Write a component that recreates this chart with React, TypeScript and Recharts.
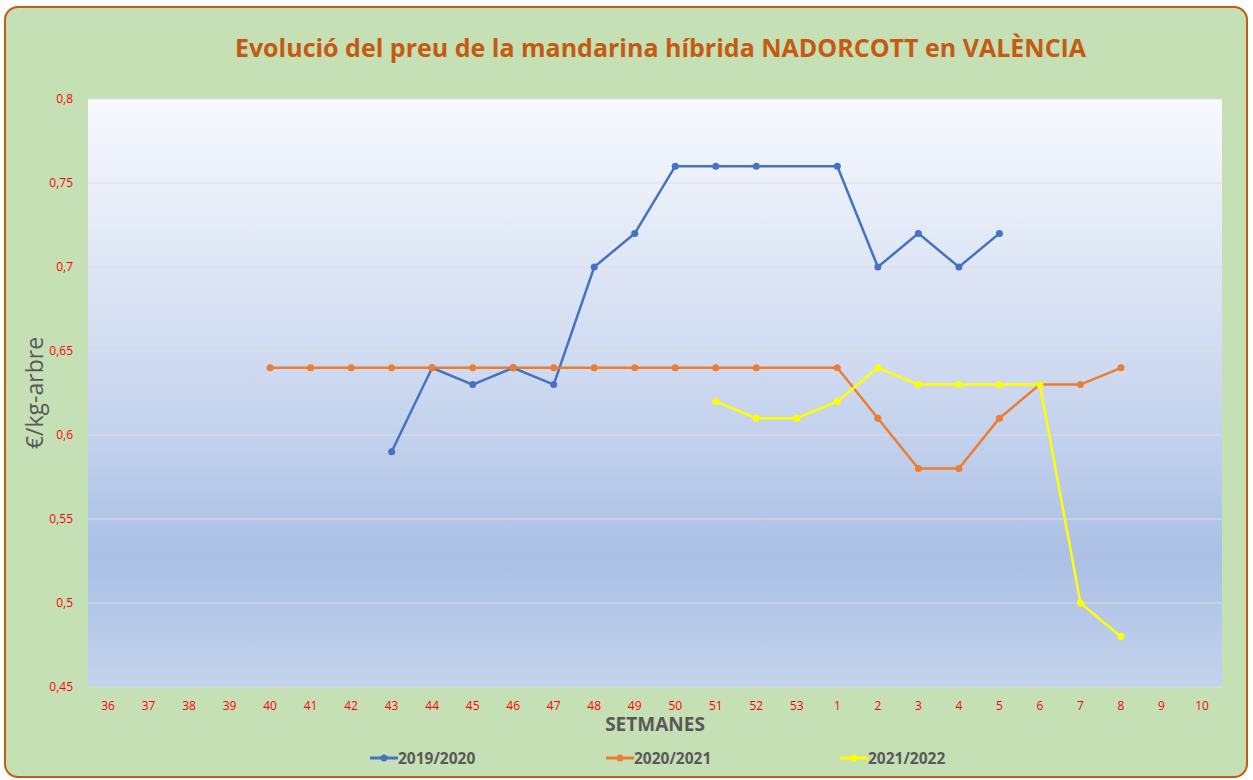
import React from 'react';
import { LineChart, Line, XAxis, YAxis, CartesianGrid, Legend } from 'recharts';

const weeks = ['36','37','38','39','40','41','42','43','44','45','46','47','48','49','50','51','52','53','1','2','3','4','5','6','7','8','9','10'];
const s2019: (number | null)[] = [null,null,null,null,null,null,null,0.59,0.64,0.63,0.64,0.63,0.70,0.72,0.76,0.76,0.76,null,0.76,0.70,0.72,0.70,0.72,null,null,null,null,null];
const s2020: (number | null)[] = [null,null,null,null,0.64,0.64,0.64,0.64,0.64,0.64,0.64,0.64,0.64,0.64,0.64,0.64,0.64,null,0.64,0.61,0.58,0.58,0.61,0.63,0.63,0.64,null,null];
const s2021: (number | null)[] = [null,null,null,null,null,null,null,null,null,null,null,null,null,null,null,0.62,0.61,0.61,0.62,0.64,0.63,0.63,0.63,0.63,0.50,0.48,null,null];
const yTicks = [0.45, 0.5, 0.55, 0.6, 0.65, 0.7, 0.75, 0.8];

const seriesNames = ['2019/2020', '2020/2021', '2021/2022'];
const seriesColors = ['#4472C4', '#ED7D31', '#FFFF00'];

const data = weeks.map((w, i) => ({ week: w, a: s2019[i], b: s2020[i], c: s2021[i] }));

const fmt = (v: number) => String(Math.round(v * 100) / 100).replace('.', ',');

const FONT = '"Open Sans", "Noto Sans", sans-serif';

const LegendContent = () => (
  <div style={{ position: 'relative', width: 1253, height: 20, fontFamily: FONT }}>
    {seriesNames.map((n, i) => {
      const left = [370, 606, 840][i];
      return (
        <div key={n} style={{ position: 'absolute', left, top: 0, display: 'flex', alignItems: 'center', height: 20 }}>
          <svg width={28} height={12}>
            <line x1={0} y1={6} x2={28} y2={6} stroke={seriesColors[i]} strokeWidth={3} />
            <circle cx={14} cy={6} r={3.5} fill={seriesColors[i]} />
          </svg>
          <span style={{ color: '#595959', fontWeight: 700, fontSize: 15.5, marginLeft: 0 }}>{n}</span>
        </div>
      );
    })}
  </div>
);

export default function App() {
  return (
    <div style={{ position: 'absolute', left: 0, top: 0, width: 1253, height: 780, background: '#fff', overflow: 'hidden' }}>
      <div style={{ position: 'absolute', left: 4, top: 6, width: 1244, height: 772, boxSizing: 'border-box', background: '#C5E0B4', border: '2px solid #C55A11', borderRadius: 14 }} />
      <div style={{ position: 'absolute', left: 34, top: 30, width: 1253, textAlign: 'center', fontFamily: FONT, fontWeight: 700, fontSize: 25, color: '#C55A11', letterSpacing: 0, lineHeight: '34px' }}>
        Evolució del preu de la mandarina híbrida NADORCOTT en VALÈNCIA
      </div>
      <div style={{ position: 'absolute', left: 0, top: 0 }}>
        <LineChart width={1253} height={780} data={data} margin={{ top: 99, right: 31, left: 40, bottom: 43 }}>
          <defs>
            <linearGradient id="bgGrad" x1="0" y1="0" x2="0" y2="1">
              <stop offset="0%" stopColor="#F7F9FD" />
              <stop offset="50%" stopColor="#CBD7EF" />
              <stop offset="78%" stopColor="#ABC0E5" />
              <stop offset="100%" stopColor="#C4D3EC" />
            </linearGradient>
          </defs>
          <CartesianGrid vertical={false} fill="url(#bgGrad)" stroke="#DCDEE6" strokeWidth={1} />
          <XAxis dataKey="week" axisLine={false} tickLine={false} interval={0} padding={{ left: 20, right: 20 }}
            tick={{ fill: '#FF0000', fontSize: 12, fontFamily: FONT }} tickMargin={8} height={30}
            label={{ value: 'SETMANES', position: 'insideBottom', offset: -14, fill: '#595959', fontSize: 19, fontWeight: 700, fontFamily: FONT }} />
          <YAxis domain={[0.45, 0.8]} ticks={yTicks} tickFormatter={fmt} axisLine={false} tickLine={false} width={48}
            tick={{ fill: '#FF0000', fontSize: 12, fontFamily: FONT }} tickMargin={9}
            label={{ value: '€/kg-arbre', angle: -90, position: 'insideLeft', dx: -10, dy: 0, fill: '#595959', fontSize: 23, fontFamily: FONT, style: { textAnchor: 'middle' } }} />
          <Legend verticalAlign="bottom" content={<LegendContent />} wrapperStyle={{ left: 0, width: 1253, bottom: 12 }} />
          <Line dataKey="a" name={seriesNames[0]} stroke={seriesColors[0]} strokeWidth={2.5} dot={{ r: 3.5, fill: seriesColors[0], stroke: seriesColors[0], strokeWidth: 0 }} activeDot={false} connectNulls isAnimationActive={false} />
          <Line dataKey="b" name={seriesNames[1]} stroke={seriesColors[1]} strokeWidth={2.5} dot={{ r: 3.5, fill: seriesColors[1], stroke: seriesColors[1], strokeWidth: 0 }} activeDot={false} connectNulls isAnimationActive={false} />
          <Line dataKey="c" name={seriesNames[2]} stroke={seriesColors[2]} strokeWidth={2.5} dot={{ r: 3.5, fill: seriesColors[2], stroke: seriesColors[2], strokeWidth: 0 }} activeDot={false} connectNulls isAnimationActive={false} />
        </LineChart>
      </div>
    </div>
  );
}
